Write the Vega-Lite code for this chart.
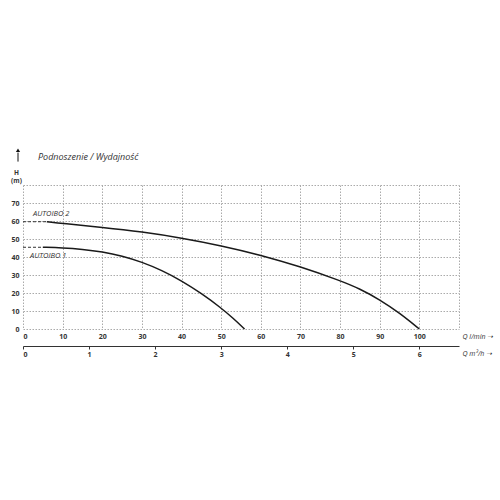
{
  "$schema": "https://vega.github.io/schema/vega-lite/v6.json",
  "autosize": {"type": "none"},
  "width": 436,
  "height": 144,
  "padding": {"left": 23, "top": 185, "right": 41, "bottom": 171},
  "background": "white",
  "config": {
    "view": {"stroke": null},
    "font": "Open Sans",
    "axis": {"labelFont": "Open Sans", "titleFont": "Open Sans", "gridColor": "#aaaaaa", "gridDash": [1.5, 1.5], "gridWidth": 1, "gridOpacity": 1}
  },
  "title": {
    "text": "Podnoszenie / Wydajność",
    "anchor": "start",
    "frame": "group",
    "font": "Open Sans",
    "fontSize": 9,
    "fontStyle": "italic",
    "fontWeight": "normal",
    "color": "#333",
    "dx": 15,
    "offset": -14
  },
  "datasets": {
    "curves": [
      {"series": "AUTOIBO 2", "part": "dash", "Q": 0, "H": 59.6},
      {"series": "AUTOIBO 2", "part": "dash", "Q": 6, "H": 59.6},
      {"series": "AUTOIBO 2", "part": "solid", "Q": 6, "H": 59.6},
      {"series": "AUTOIBO 2", "part": "solid", "Q": 10, "H": 58.6},
      {"series": "AUTOIBO 2", "part": "solid", "Q": 20, "H": 56.5},
      {"series": "AUTOIBO 2", "part": "solid", "Q": 30, "H": 54.0},
      {"series": "AUTOIBO 2", "part": "solid", "Q": 40, "H": 50.6},
      {"series": "AUTOIBO 2", "part": "solid", "Q": 50, "H": 46.3},
      {"series": "AUTOIBO 2", "part": "solid", "Q": 60, "H": 41.1},
      {"series": "AUTOIBO 2", "part": "solid", "Q": 70, "H": 34.6},
      {"series": "AUTOIBO 2", "part": "solid", "Q": 80, "H": 26.9},
      {"series": "AUTOIBO 2", "part": "solid", "Q": 85, "H": 22.3},
      {"series": "AUTOIBO 2", "part": "solid", "Q": 90, "H": 16.3},
      {"series": "AUTOIBO 2", "part": "solid", "Q": 95, "H": 8.9},
      {"series": "AUTOIBO 2", "part": "solid", "Q": 100, "H": 0},
      {"series": "AUTOIBO 1", "part": "dash", "Q": 0, "H": 45.4},
      {"series": "AUTOIBO 1", "part": "dash", "Q": 5, "H": 45.4},
      {"series": "AUTOIBO 1", "part": "solid", "Q": 5, "H": 45.4},
      {"series": "AUTOIBO 1", "part": "solid", "Q": 10, "H": 45.1},
      {"series": "AUTOIBO 1", "part": "solid", "Q": 15, "H": 44.3},
      {"series": "AUTOIBO 1", "part": "solid", "Q": 20, "H": 42.9},
      {"series": "AUTOIBO 1", "part": "solid", "Q": 25, "H": 40.6},
      {"series": "AUTOIBO 1", "part": "solid", "Q": 30, "H": 37.2},
      {"series": "AUTOIBO 1", "part": "solid", "Q": 35, "H": 32.6},
      {"series": "AUTOIBO 1", "part": "solid", "Q": 40, "H": 26.8},
      {"series": "AUTOIBO 1", "part": "solid", "Q": 45, "H": 19.8},
      {"series": "AUTOIBO 1", "part": "solid", "Q": 50, "H": 11.7},
      {"series": "AUTOIBO 1", "part": "solid", "Q": 53, "H": 6.0},
      {"series": "AUTOIBO 1", "part": "solid", "Q": 55.9, "H": 0}
    ],
    "m3h": [{"q": 0}, {"q": 6}],
    "arrow": [{"Q": 0, "H0": 93, "H1": 98, "Htip": 99.3}]
  },
  "resolve": {"scale": {"x": "independent"}, "axis": {"x": "independent"}},
  "layer": [
    {
      "encoding": {
        "x": {
          "type": "quantitative",
          "scale": {"domain": [0, 110], "nice": false},
          "axis": {
            "orient": "bottom",
            "values": [0, 10, 20, 30, 40, 50, 60, 70, 80, 90, 100, 110],
            "labelExpr": "datum.value > 100 ? '' : datum.label",
            "labelOverlap": false,
            "domain": false, "ticks": false,
            "grid": true, "gridDash": [1.5, 1.5], "gridColor": "#aaaaaa", "gridWidth": 1, "gridOpacity": 1,
            "labelFontSize": 7, "labelFontWeight": "bold", "labelColor": "#333", "labelPadding": 3,
            "title": "Q  l/min  ➝",
            "titleFontSize": 7, "titleFontStyle": "italic", "titleFontWeight": "normal", "titleColor": "#333",
            "titleAngle": 0, "titleAlign": "left", "titleBaseline": "middle",
            "titleX": 439, "titleY": 7
          }
        },
        "y": {
          "type": "quantitative",
          "scale": {"domain": [0, 80], "nice": false},
          "axis": {
            "values": [0, 10, 20, 30, 40, 50, 60, 70, 80],
            "labelExpr": "datum.value > 70 ? '' : datum.label",
            "labelOverlap": false,
            "domain": false, "ticks": false,
            "grid": true, "gridDash": [1.5, 1.5], "gridColor": "#aaaaaa", "gridWidth": 1, "gridOpacity": 1,
            "labelFontSize": 7, "labelFontWeight": "bold", "labelColor": "#333", "labelPadding": 4,
            "title": ["H", "(m)"],
            "titleFontSize": 6.5, "titleFontWeight": "bold", "titleColor": "#333",
            "titleAngle": 0, "titleAlign": "center", "titleBaseline": "middle",
            "titleLineHeight": 8,
            "titleX": -7, "titleY": -13
          }
        }
      },
      "layer": [
        {
          "data": {"name": "curves"},
          "transform": [{"filter": "datum.part === 'solid'"}],
          "mark": {"type": "line", "color": "#1a1a1a", "strokeWidth": 1.5, "interpolate": "basis"},
          "encoding": {
            "x": {"field": "Q"},
            "y": {"field": "H"},
            "detail": {"field": "series"}
          }
        },
        {
          "data": {"name": "curves"},
          "transform": [{"filter": "datum.part === 'dash'"}],
          "mark": {"type": "line", "color": "#333", "strokeWidth": 1, "strokeDash": [3, 2]},
          "encoding": {
            "x": {"field": "Q"},
            "y": {"field": "H"},
            "detail": {"field": "series"}
          }
        },
        {
          "data": {"name": "curves"},
          "transform": [{"filter": "datum.Q === 0 && datum.series === 'AUTOIBO 2'"}],
          "mark": {"type": "text", "align": "left", "baseline": "middle", "dx": 10, "dy": -8, "fontSize": 7.5, "fontStyle": "italic", "color": "#333", "font": "Open Sans"},
          "encoding": {
            "x": {"field": "Q"},
            "y": {"field": "H"},
            "text": {"field": "series"}
          }
        },
        {
          "data": {"name": "curves"},
          "transform": [{"filter": "datum.Q === 0 && datum.series === 'AUTOIBO 1'"}],
          "mark": {"type": "text", "align": "left", "baseline": "middle", "dx": 7, "dy": 9, "fontSize": 7.5, "fontStyle": "italic", "color": "#333", "font": "Open Sans"},
          "encoding": {
            "x": {"field": "Q"},
            "y": {"field": "H"},
            "text": {"field": "series"}
          }
        },
        {
          "data": {"name": "arrow"},
          "mark": {"type": "rule", "color": "#111", "strokeWidth": 1, "xOffset": -5},
          "encoding": {
            "x": {"field": "Q"},
            "y": {"field": "H0"},
            "y2": {"field": "H1"}
          }
        },
        {
          "data": {"name": "arrow"},
          "mark": {"type": "point", "shape": "triangle-up", "filled": true, "color": "#111", "size": 18, "opacity": 1, "xOffset": -5},
          "encoding": {
            "x": {"field": "Q"},
            "y": {"field": "Htip"}
          }
        }
      ]
    },
    {
      "data": {"name": "m3h"},
      "mark": {"type": "point", "opacity": 0},
      "encoding": {
        "x": {
          "field": "q", "type": "quantitative",
          "scale": {"domain": [0, 6.6], "nice": false},
          "axis": {
            "orient": "bottom", "offset": 17,
            "values": [0, 1, 2, 3, 4, 5, 6],
            "domain": true, "domainColor": "#333", "domainWidth": 1,
            "ticks": true, "tickColor": "#333", "tickSize": 3,
            "grid": false,
            "labelFontSize": 7, "labelFontWeight": "bold", "labelColor": "#333", "labelPadding": 1,
            "title": "Q  m³/h  ➝",
            "titleFontSize": 7, "titleFontStyle": "italic", "titleFontWeight": "normal", "titleColor": "#333",
            "titleAngle": 0, "titleAlign": "left", "titleBaseline": "middle",
            "titleX": 439, "titleY": 7
          }
        }
      }
    }
  ]
}
